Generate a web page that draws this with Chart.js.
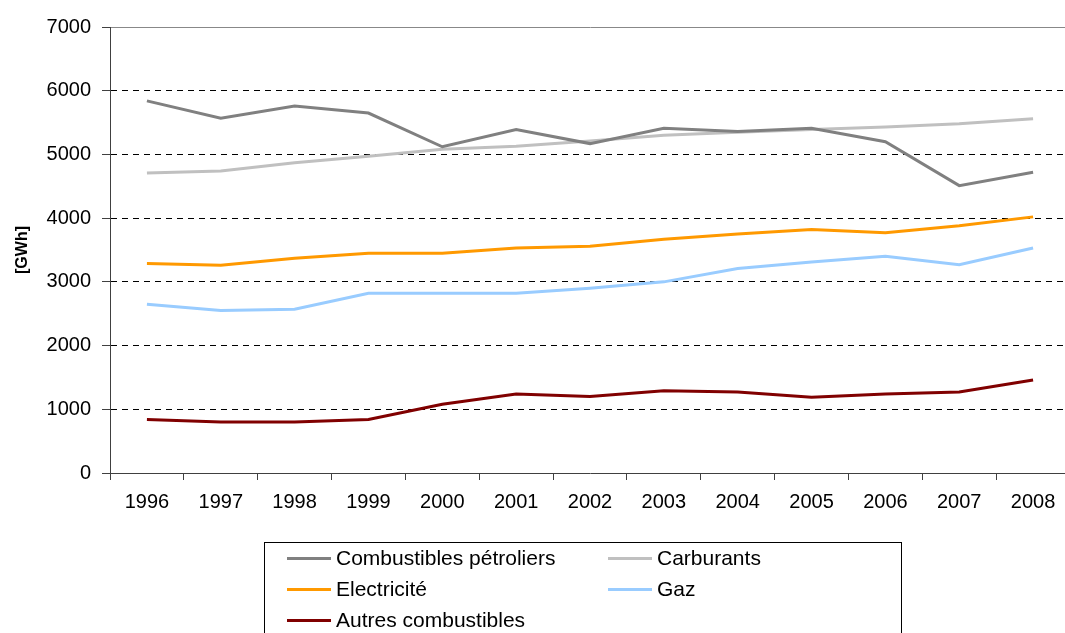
<!DOCTYPE html>
<html>
<head>
<meta charset="utf-8">
<title>Consommation d'énergie</title>
<script src="https://cdn.jsdelivr.net/npm/chart.js@4/dist/chart.umd.min.js"></script>
<style>
    html, body {
        margin: 0;
        padding: 0;
        background: #fff;
        overflow: hidden;
    }
    #wrap {
        position: relative;
        width: 1065px;
        height: 633px;
        overflow: hidden;
    }
    #chart {
        position: absolute;
        left: 0;
        top: 0;
    }
    #legend {
        position: absolute;
        left: 264px;
        top: 542px;
        width: 638px;
        height: 120px;
        border: 1px solid #000;
        box-sizing: border-box;
        font-family: "Liberation Sans", Arial, sans-serif;
        font-size: 21px;
        color: #000;
    }
    .item {
        position: absolute;
        display: flex;
        align-items: center;
        height: 30px;
        white-space: nowrap;
    }
    .item span.line {
        display: inline-block;
        width: 44px;
        height: 3px;
        margin-right: 5px;
    }
</style>
</head>
<body>
<div id="wrap">
    <canvas id="chart" width="1070" height="633"></canvas>
    <div id="legend"></div>
</div>
<script>
const years = ["1996", "1997", "1998", "1999", "2000", "2001", "2002", "2003", "2004", "2005", "2006", "2007", "2008"];
const petroliers = [5840, 5570, 5760, 5650, 5120, 5390, 5170, 5410, 5360, 5410, 5200, 4510, 4720];
const carburants = [4710, 4740, 4870, 4970, 5080, 5130, 5210, 5300, 5350, 5390, 5430, 5480, 5560];
const electricite = [3290, 3260, 3370, 3450, 3450, 3530, 3560, 3670, 3750, 3820, 3770, 3880, 4020];
const gaz = [2650, 2550, 2570, 2820, 2820, 2820, 2900, 3000, 3210, 3310, 3400, 3270, 3530];
const autres = [840, 800, 800, 840, 1080, 1240, 1200, 1290, 1270, 1190, 1240, 1270, 1460];
const yTicks = [0, 1000, 2000, 3000, 4000, 5000, 6000, 7000];

const fontFamily = "'Liberation Sans', Arial, sans-serif";

function makeSet(label, data, color) {
    return {
        label: label,
        data: data,
        borderColor: color,
        backgroundColor: color,
        borderWidth: 3,
        pointRadius: 0,
        pointHoverRadius: 0,
        tension: 0,
        fill: false
    };
}

function buildLegend(chart) {
    const box = document.getElementById("legend");
    const sets = chart.data.datasets;
    for (let i = 0; i < sets.length; i++) {
        const item = document.createElement("div");
        item.className = "item";
        item.style.left = (i % 2 === 0 ? 22 : 343) + "px";
        item.style.top = (Math.floor(i / 2) * 31) + "px";
        const line = document.createElement("span");
        line.className = "line";
        line.style.background = sets[i].borderColor;
        item.appendChild(line);
        item.appendChild(document.createTextNode(sets[i].label));
        box.appendChild(item);
    }
}

window.addEventListener("DOMContentLoaded", () => {
    const chart = new Chart(document.getElementById("chart"), {
        type: "line",
        data: {
            labels: years,
            datasets: [
                makeSet("Combustibles pétroliers", petroliers, "#808080"),
                makeSet("Carburants", carburants, "#C0C0C0"),
                makeSet("Electricité", electricite, "#FF9900"),
                makeSet("Gaz", gaz, "#99CCFF"),
                makeSet("Autres combustibles", autres, "#800000")
            ]
        },
        options: {
            responsive: false,
            animation: false,
            devicePixelRatio: 1,
            layout: {
                padding: { top: 27, left: 0, right: 0, bottom: 0 }
            },
            plugins: {
                legend: { display: false },
                tooltip: { enabled: false }
            },
            scales: {
                x: {
                    offset: true,
                    grid: {
                        offset: true,
                        drawOnChartArea: false,
                        drawTicks: true,
                        tickLength: 7,
                        tickColor: "#404040"
                    },
                    border: { color: "#404040", width: 1 },
                    ticks: {
                        color: "#000",
                        padding: 10,
                        maxRotation: 0,
                        font: { family: fontFamily, size: 20 }
                    },
                    afterFit: (scale) => { scale.height = 160; }
                },
                y: {
                    min: yTicks[0],
                    max: yTicks[yTicks.length - 1],
                    afterBuildTicks: (scale) => {
                        scale.ticks = yTicks.map(v => ({ value: v }));
                    },
                    grid: {
                        color: (ctx) => ctx.tick && ctx.tick.value === 7000 ? "#888888" : "#000000",
                        lineWidth: 1,
                        drawTicks: true,
                        tickLength: 8,
                        tickColor: "#404040"
                    },
                    border: {
                        color: "#404040",
                        width: 1,
                        dash: (ctx) => ctx.tick && ctx.tick.value === 7000 ? [] : [6, 5]
                    },
                    ticks: {
                        color: "#000",
                        padding: 11,
                        font: { family: fontFamily, size: 20 },
                        callback: (value) => String(value)
                    },
                    title: {
                        display: true,
                        text: "[GWh]",
                        color: "#000",
                        padding: { top: 13, bottom: 0 },
                        font: { family: fontFamily, size: 16, weight: "bold" }
                    },
                    afterFit: (scale) => { scale.width = 110; }
                }
            }
        }
    });
    buildLegend(chart);
});
</script>
</body>
</html>
